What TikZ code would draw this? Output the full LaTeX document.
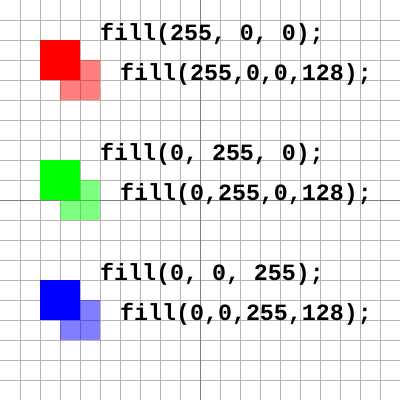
\documentclass[tikz,border=0pt]{standalone}
\usepackage{fontspec}
\setmonofont{Liberation Mono}
\definecolor{gridc}{RGB}{180,180,180}
\definecolor{axisc}{RGB}{128,128,128}
\definecolor{pred}{RGB}{255,0,0}
\definecolor{pgreen}{RGB}{0,255,0}
\definecolor{pblue}{RGB}{0,0,255}
\tikzset{
  gridline/.style={draw=gridc, line width=1pt},
  axisline/.style={draw=axisc, line width=1pt},
  solidsq/.style={fill=#1},
  halfsq/.style={fill=#1, fill opacity=0.502},
  code/.style={anchor=base west, inner sep=0pt, font=\ttfamily\bfseries\fontsize{23.3}{28}\selectfont, text=black}
}
\begin{document}
\begin{tikzpicture}[x=1pt,y=-1pt]
\fill[white] (0,0) rectangle (400,400);
\useasboundingbox (0,0) rectangle (400,400);
\foreach \i in {20,40,...,380}{
  \draw[gridline] (\i,0) -- (\i,400);
  \draw[gridline] (0,\i) -- (400,\i);
}
\draw[axisline] (200,0) -- (200,400);
\draw[axisline] (0,200) -- (400,200);
% red
\fill[solidsq=pred] (40,40) rectangle (80,80);
\fill[halfsq=pred] (60,60) rectangle (100,100);
\node[code] (t1) at (100,40) {fill(255, 0, 0);};
\node[code] (t2) at (120,80) {fill(255,0,0,128);};
% green
\fill[solidsq=pgreen] (40,160) rectangle (80,200);
\fill[halfsq=pgreen] (60,180) rectangle (100,220);
\node[code] (t3) at (100,160) {fill(0, 255, 0);};
\node[code] (t4) at (120,200) {fill(0,255,0,128);};
% blue
\fill[solidsq=pblue] (40,280) rectangle (80,320);
\fill[halfsq=pblue] (60,300) rectangle (100,340);
\node[code] (t5) at (100,280) {fill(0, 0, 255);};
\node[code] (t6) at (120,320) {fill(0,0,255,128);};
\end{tikzpicture}
\end{document}
